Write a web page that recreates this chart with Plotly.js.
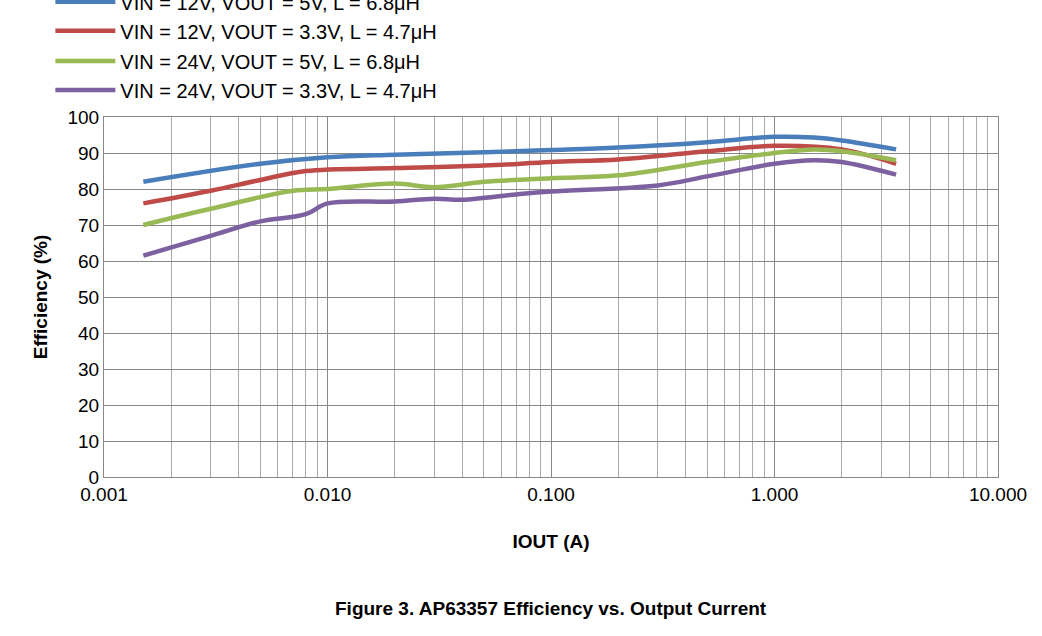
<!DOCTYPE html><html><head><script src="https://cdn.plot.ly/plotly-3.0.1.min.js"></script></head><body style="margin:0"><div id="c" style="width:1042px;height:636px"></div><script>
const names=["VIN = 12V, VOUT = 5V, L = 6.8μH","VIN = 12V, VOUT = 3.3V, L = 4.7μH","VIN = 24V, VOUT = 5V, L = 6.8μH","VIN = 24V, VOUT = 3.3V, L = 4.7μH"];
const colors=["#4a7ebb","#be4b48","#98b954","#7d60a0"];
const x1=[0.0015,0.005,0.01,0.02,0.05,0.1,0.2,0.5,1,1.5,2,3.5];
const y1=[82,87,88.8,89.5,90.2,90.8,91.5,93,94.5,94.3,93.5,91];
const x2=[0.0015,0.003,0.005,0.008,0.02,0.05,0.1,0.2,0.5,1,2,3.5];
const y2=[76,79.5,82.5,85,85.8,86.5,87.5,88.2,90.5,92,91,87];
const x3=[0.0015,0.003,0.007,0.01,0.02,0.03,0.05,0.1,0.2,0.5,1,1.5,2,3.5];
const y3=[70,74.5,79.5,80,81.5,80.5,82,83,83.8,87.5,90,91,90.5,88];
const x4=[0.0015,0.003,0.005,0.008,0.01,0.02,0.03,0.04,0.07,0.1,0.3,0.5,1,1.5,2,3.5];
const y4=[61.5,67,71,73,76,76.5,77.3,77,78.5,79.3,81,83.5,87,88,87.5,84];
const xs=[x1,x2,x3,x4], ys=[y1,y2,y3,y4];
const tickv=[0.001,0.01,0.1,1,10], tickt=["0.001","0.010","0.100","1.000","10.000"];
const data=xs.map((x,i)=>({x:x,y:ys[i],name:names[i],mode:"lines",line:{color:colors[i],width:4.5,shape:"spline"},legend:i<2?"legend":"legend2"}));
const lg=y=>({orientation:"h",x:-0.06,y:y,yanchor:"middle",xanchor:"left",entrywidth:490,font:{size:20,color:"#000"},itemwidth:60,bgcolor:"rgba(0,0,0,0)"});
Plotly.newPlot("c",data,{width:1042,height:636,margin:{l:104,r:44,t:117,b:159,autoexpand:false},
font:{family:"Liberation Sans, Arial",color:"#000"},plot_bgcolor:"#fff",
legend:lg(1.28),legend2:lg(1.115),
xaxis:{type:"log",range:[-3,1],tickvals:tickv,ticktext:tickt,showgrid:true,gridcolor:"#888",gridwidth:1,minor:{dtick:"D1",showgrid:true,gridcolor:"#aaa",ticks:""},showline:true,linecolor:"#888",mirror:true,tickfont:{size:19},zeroline:false,
title:{text:"<b>IOUT (A)</b>",font:{size:19},standoff:30}},
yaxis:{range:[0,100],dtick:10,showgrid:true,gridcolor:"#888",showline:true,linecolor:"#888",mirror:true,tickfont:{size:19},zeroline:false,
title:{text:"<b>Efficiency (%)</b>",font:{size:19},standoff:14}},
annotations:[{text:"<b>Figure 3. AP63357 Efficiency vs. Output Current</b>",xref:"paper",yref:"paper",x:0.5,y:-0.4,showarrow:false,font:{size:19}}]
},{displayModeBar:false});
</script></body></html>
